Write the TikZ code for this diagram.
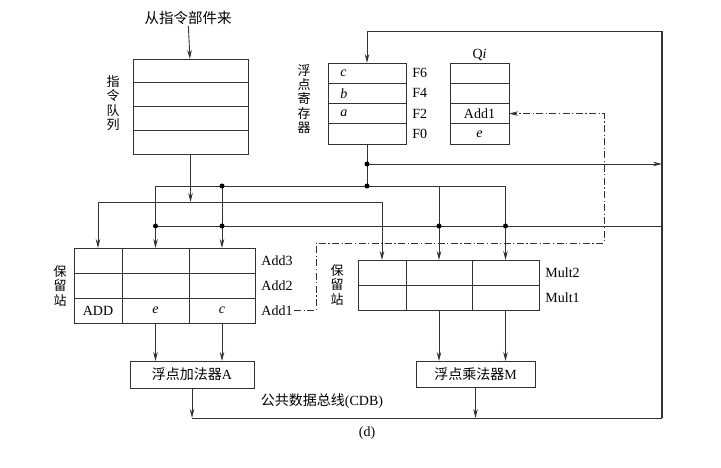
\documentclass[tikz,border=0pt]{standalone}
\usepackage{fontspec}
\setmainfont{Liberation Serif}
\newfontfamily\cjk{Noto Sans CJK SC}
\usetikzlibrary{positioning,arrows.meta}

\tikzset{
    cell/.style={rectangle, draw, inner sep=0pt, outer sep=0pt},
    lbl/.style={inner sep=1pt},
    vlabel/.style={inner sep=0pt, align=center, font=\cjk\fontsize{13}{14.2}\selectfont},
    jdot/.style={circle, fill, inner sep=0pt, minimum size=5pt},
    ctrl/.style={dash pattern=on 7pt off 2.5pt on 1.2pt off 2.5pt},
    bus/.style={line width=1.5pt}
}

\begin{document}
\begin{tikzpicture}[x=1pt, y=-1pt, line width=0.9pt, draw=black!80,
    font=\fontsize{14}{16}\selectfont, >={Stealth[length=9pt,width=4.5pt]}]
    \useasboundingbox (0,0) rectangle (721,468);

    % Instruction queue
    \node[cell, minimum width=115pt, minimum height=23.75pt] (q1) at (190.5,70.9) {};
    \node[cell, minimum width=115pt, minimum height=23.75pt, below=0pt of q1] (q2) {};
    \node[cell, minimum width=115pt, minimum height=23.75pt, below=0pt of q2] (q3) {};
    \node[cell, minimum width=115pt, minimum height=23.75pt, below=0pt of q3] (q4) {};
    \node[lbl, font=\cjk\fontsize{14.5}{16}\selectfont] (src) at (188,18) {从指令部件来};
    \node[vlabel] (qlabel) at (113,103) {指\\令\\队\\列};

    % FP registers
    \node[cell, minimum width=78pt, minimum height=20.25pt] (fp1) at (367,73.1) {};
    \node[cell, minimum width=78pt, minimum height=20.25pt, below=0pt of fp1] (fp2) {};
    \node[cell, minimum width=78pt, minimum height=20.25pt, below=0pt of fp2] (fp3) {};
    \node[cell, minimum width=78pt, minimum height=20.25pt, below=0pt of fp3] (fp4) {};
    \node[lbl, right=11pt of fp1.west] {\textit{c}};
    \node[lbl, right=11pt of fp2.west] {\textit{b}};
    \node[lbl, right=11pt of fp3.west] {\textit{a}};
    \node[lbl, right=5pt of fp1] {F6};
    \node[lbl, right=5pt of fp2] {F4};
    \node[lbl, right=5pt of fp3] {F2};
    \node[lbl, right=5pt of fp4] {F0};
    \node[vlabel] (fplabel) at (304,99) {浮\\点\\寄\\存\\器};

    % Qi
    \node[cell, minimum width=59pt, minimum height=20.25pt] (qi1) at (479.5,73.1) {};
    \node[cell, minimum width=59pt, minimum height=20.25pt, below=0pt of qi1] (qi2) {};
    \node[cell, minimum width=59pt, minimum height=20.25pt, below=0pt of qi2] (qi3) {Add1};
    \node[cell, minimum width=59pt, minimum height=20.25pt, below=0pt of qi3] (qi4) {\textit{e}};
    \node[lbl, above=1pt of qi1] (qilabel) {Q\textit{i}};

    % Add reservation station
    \node[cell, minimum width=48pt, minimum height=25pt] (add31) at (98,260.5) {};
    \node[cell, minimum width=67pt, minimum height=25pt, right=0pt of add31] (add32) {};
    \node[cell, minimum width=66pt, minimum height=25pt, right=0pt of add32] (add33) {};
    \node[cell, minimum width=48pt, minimum height=25pt, below=0pt of add31] (add21) {};
    \node[cell, minimum width=67pt, minimum height=25pt, right=0pt of add21] (add22) {};
    \node[cell, minimum width=66pt, minimum height=25pt, right=0pt of add22] (add23) {};
    \node[cell, minimum width=48pt, minimum height=25pt, below=0pt of add21] (add11) {ADD};
    \node[cell, minimum width=67pt, minimum height=25pt, right=0pt of add11] (add12) {\textit{e}};
    \node[cell, minimum width=66pt, minimum height=25pt, right=0pt of add12] (add13) {\textit{c}};
    \node[lbl, right=5pt of add33] (addl3) {Add3};
    \node[lbl, right=5pt of add23] (addl2) {Add2};
    \node[lbl, right=5pt of add13] (addl1) {Add1};
    \node[vlabel] (addrs) at (60,286) {保\\留\\站};

    % Mult reservation station
    \node[cell, minimum width=48pt, minimum height=25pt] (mul21) at (382,272.5) {};
    \node[cell, minimum width=66pt, minimum height=25pt, right=0pt of mul21] (mul22) {};
    \node[cell, minimum width=67pt, minimum height=25pt, right=0pt of mul22] (mul23) {};
    \node[cell, minimum width=48pt, minimum height=25pt, below=0pt of mul21] (mul11) {};
    \node[cell, minimum width=66pt, minimum height=25pt, right=0pt of mul11] (mul12) {};
    \node[cell, minimum width=67pt, minimum height=25pt, right=0pt of mul12] (mul13) {};
    \node[lbl, right=5pt of mul23] (mull2) {Mult2};
    \node[lbl, right=5pt of mul13] (mull1) {Mult1};
    \node[vlabel] (mulrs) at (337,285) {保\\留\\站};

    % Functional units
    \node[cell, minimum width=124pt, minimum height=27pt] (adder) at (192,374.5) {{\cjk 浮点加法器}A};
    \node[cell, minimum width=119pt, minimum height=26pt] (mulfu) at (475.5,374) {{\cjk 浮点乘法器}M};

    % CDB
    \coordinate (topR) at (662,31);
    \coordinate (cdbR) at (662,418);
    \node[lbl] (cdb) at (322,401) {{\cjk 公共数据总线}(CDB)};
    \node[lbl] (cap) at (367,433) {(d)};

    % junction levels
    \coordinate (jf) at (367,164);
    \coordinate (jr) at (367,186);
    \coordinate (hq) at (0,202);
    \coordinate (hc) at (0,226);
    \coordinate (dd1) at (316,243);
    \coordinate (dd2) at (604,243);

    % Arrows
    \draw[->] (src) -- (q1);
    \draw[bus] (cdbR) -- (topR);
    \draw[->] (topR) -- (topR -| fp1.north) -- (fp1.north);
    \draw (adder.south |- cdbR) -- (cdbR);
    \draw[->] (adder.south) -- (adder.south |- cdbR);
    \draw[->] (mulfu.south) -- (mulfu.south |- cdbR);

    \draw (fp4.south) -- (jr);
    \draw[->] (jf) -- (jf -| topR);
    \draw[->] (q4.south) -- (q4.south |- hq);
    \draw[<->] (add31.north) |- (hq -| mul21.north) -- (mul21.north);
    \draw[<->] (add32.north) |- (jr -| mul23.north) -- (mul23.north);
    \draw[->] (add33.north |- jr) -- (add33.north);
    \draw[->] (mul22.north |- jr) -- (mul22.north);
    \draw (add32.north |- hc) -- (topR |- hc);

    \draw[->] (add12.south) -- (add12.south |- adder.north);
    \draw[->] (add13.south) -- (add13.south |- adder.north);
    \draw[->] (mul12.south) -- (mul12.south |- mulfu.north);
    \draw[->] (mul13.south) -- (mul13.south |- mulfu.north);

    \draw[ctrl, ->] (addl1.east) -| (dd1) -- (dd2) |- (qi3.east);

    % Dots
    \node[jdot] at (jf) {};
    \node[jdot] at (jr) {};
    \node[jdot] at (add33.north |- jr) {};
    \node[jdot] at (add32.north |- hc) {};
    \node[jdot] at (add33.north |- hc) {};
    \node[jdot] at (mul22.north |- hc) {};
    \node[jdot] at (mul23.north |- hc) {};

\end{tikzpicture}
\end{document}
